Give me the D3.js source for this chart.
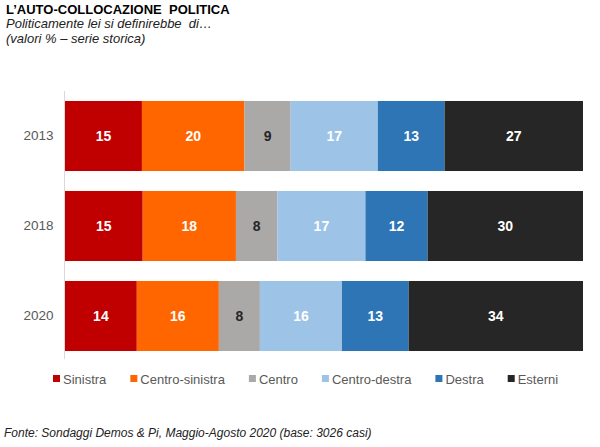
<!DOCTYPE html>
<html><head><meta charset="utf-8">
<script src="https://cdn.jsdelivr.net/npm/d3@7"></script>
<style>html,body{margin:0;padding:0;background:#fff;}svg{display:block;font-family:"Liberation Sans",Arial,sans-serif;}</style>
</head><body>
<svg id="c" width="600" height="447"></svg>
<script>
const years = ["2013", "2018", "2020"];
const categories = ["Sinistra", "Centro-sinistra", "Centro", "Centro-destra", "Destra", "Esterni"];
const sinistra = [15, 15, 14];
const centroSinistra = [20, 18, 16];
const centro = [9, 8, 8];
const centroDestra = [17, 17, 16];
const destra = [13, 12, 13];
const esterni = [27, 30, 34];
const colors = ["#C00000", "#FF6600", "#ABA8A8", "#9DC3E6", "#2E75B6", "#262626"];
const labelColors = ["#fff", "#fff", "#262626", "#fff", "#fff", "#fff"];

const seriesValues = [sinistra, centroSinistra, centro, centroDestra, destra, esterni];
const rows = years.map((y, i) => {
  const r = {year: y};
  categories.forEach((c, k) => r[c] = seriesValues[k][i]);
  return r;
});

const svg = d3.select("#c");
const x = d3.scaleLinear().domain([0, 1]).range([65, 583]);
const y = d3.scaleBand().domain(years).range([91, 361]).paddingInner(0.222).paddingOuter(0.111);

const stack = d3.stack().keys(categories).offset(d3.stackOffsetExpand);
const series = stack(rows);

const g = svg.append("g");
series.forEach((s, k) => {
  const grp = g.append("g");
  grp.selectAll("rect").data(s).join("rect")
    .attr("x", d => x(d[0]))
    .attr("width", d => x(d[1]) - x(d[0]))
    .attr("y", d => y(d.data.year))
    .attr("height", y.bandwidth())
    .attr("fill", colors[k]);
  grp.selectAll("text").data(s).join("text")
    .attr("x", d => (x(d[0]) + x(d[1])) / 2)
    .attr("y", d => y(d.data.year) + y.bandwidth() / 2)
    .attr("dy", "0.35em")
    .attr("text-anchor", "middle")
    .attr("font-size", "14px")
    .attr("font-weight", "bold")
    .attr("fill", labelColors[k])
    .text(d => d.data[s.key]);
});

// y axis
const yAxis = svg.append("g").attr("transform", "translate(64.5,0)")
  .call(d3.axisLeft(y).tickSize(0).tickPadding(11));
yAxis.select(".domain").attr("stroke", "#d9d9d9").attr("d", "M0,91V359");
yAxis.selectAll("text").attr("font-size", "13.5px").attr("fill", "#595959")
  .attr("font-family", "Liberation Sans, Arial, sans-serif");

// title
svg.append("text").attr("x", 6).attr("y", 14).attr("font-size", "13px").attr("font-weight", "bold")
  .attr("fill", "#000").attr("xml:space", "preserve").text("L’AUTO-COLLOCAZIONE  POLITICA");
svg.append("text").attr("x", 6).attr("y", 28).attr("font-size", "13px").attr("font-style", "italic")
  .attr("fill", "#222").attr("xml:space", "preserve").text("Politicamente lei si definirebbe  di…");
svg.append("text").attr("x", 6).attr("y", 43).attr("font-size", "13px").attr("font-style", "italic")
  .attr("fill", "#222").text("(valori % – serie storica)");

// legend
const legend = svg.append("g");
let lx = 53;
categories.forEach((c, k) => {
  legend.append("rect").attr("x", lx).attr("y", 375).attr("width", 7).attr("height", 7).attr("fill", colors[k]);
  const t = legend.append("text").attr("x", lx + 10).attr("y", 383.5).attr("font-size", "13px")
    .attr("fill", "#595959").text(c);
  lx = lx + 10 + t.node().getComputedTextLength() + 24;
});

// footer
svg.append("text").attr("x", 4).attr("y", 437).attr("font-size", "12px").attr("font-style", "italic")
  .attr("fill", "#222").text("Fonte: Sondaggi Demos & Pi, Maggio-Agosto 2020 (base: 3026 casi)");
</script>
</body></html>
